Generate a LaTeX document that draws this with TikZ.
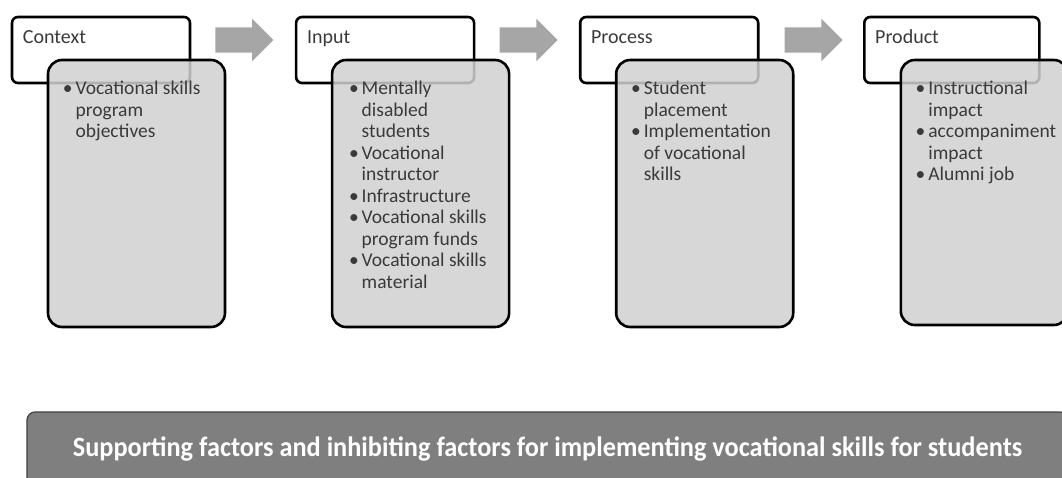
\documentclass[tikz,border=0pt]{standalone}
\usepackage{fontspec}
\setmainfont{Carlito}
\usetikzlibrary{positioning,calc,shapes.arrows}
\definecolor{listgray}{HTML}{D0D0D0}
\definecolor{arrowgray}{HTML}{A6A6A6}
\definecolor{bargray}{HTML}{7F7F7F}
\definecolor{textgray}{HTML}{3A3A3A}
\tikzset{headbox/.style={draw,line width=2.6pt,rounded corners=6pt,fill=white,
    minimum width=178pt,minimum height=66pt,inner sep=0pt}}
\tikzset{listbox/.style={draw,line width=2.6pt,rounded corners=14pt,fill=listgray,
    fill opacity=0.85,minimum width=177pt,minimum height=267pt,anchor=north west}}
\tikzset{headtext/.style={anchor=base west,inner sep=0pt,text=textgray,
    font=\fontsize{20}{24}\selectfont}}
\tikzset{listtext/.style={anchor=base west,inner sep=0pt,text=textgray,
    font=\fontsize{19.5}{21.5}\selectfont}}
\tikzset{steparrow/.style={single arrow,fill=arrowgray,inner xsep=0pt,inner ysep=12.5pt,
    minimum height=58pt,single arrow head extend=8.5pt}}
\tikzset{factorbar/.style={draw=black!75,fill=bargray,line width=1.2pt,rounded corners=8pt,
    minimum width=1041pt,minimum height=74pt,text=white,
    font=\bfseries\fontsize{28}{32}\selectfont}}
\newcommand{\bulletlist}[1]{\begin{tabular}[t]{@{}l@{\hspace{3pt}}l@{}}#1\end{tabular}}

\begin{document}
\begin{tikzpicture}[x=1pt,y=-1pt,node distance=103.5pt]
      \useasboundingbox (0,0) rectangle (1062,477);
      \node[headbox](ctx) at (101,50){};
      \node[headbox,right=of ctx](inp){};
      \node[headbox,right=of inp](proc){};
      \node[headbox,right=of proc,minimum width=175pt](prod){};
      
      \node[steparrow](a1) at ($(ctx.east)!0.5!(inp.west)+(-5,-10)$){};
      \node[steparrow](a2) at ($(inp.east)!0.5!(proc.west)+(-5,-10)$){};
      \node[steparrow](a3) at ($(proc.east)!0.5!(prod.west)+(-4,-10)$){};
      
      \node[listbox](ctxlist) at ([shift={(36,43)}]ctx.north west){};
      \node[listbox](inplist) at ([shift={(36,43)}]inp.north west){};
      \node[listbox](proclist) at ([shift={(36,43)}]proc.north west){};
      \node[listbox,minimum width=167pt,minimum height=265pt](prodlist) at ([shift={(36.5,43)}]prod.north west){};
      
      \node[headtext](ctxtitle) at ([shift={(12,28)}]ctx.north west){Context};
      \node[headtext](inptitle) at ([shift={(12,28)}]inp.north west){Input};
      \node[headtext](proctitle) at ([shift={(12,28)}]proc.north west){Process};
      \node[headtext](prodtitle) at ([shift={(12,28)}]prod.north west){Product};
      
      \node[listtext](ctxitems) at ([shift={(16,36)}]ctxlist.north west){\bulletlist{
        \textbullet & Vocational skills\\ & program\\ & objectives}};
      \node[listtext](inpitems) at ([shift={(18,36)}]inplist.north west){\bulletlist{
        \textbullet & Mentally\\ & disabled\\ & students\\
        \textbullet & Vocational\\ & instructor\\
        \textbullet & Infrastructure\\
        \textbullet & Vocational skills\\ & program funds\\
        \textbullet & Vocational skills\\ & material}};
      \node[listtext](procitems) at ([shift={(16,36)}]proclist.north west){\bulletlist{
        \textbullet & Student\\ & placement\\
        \textbullet & Implementation\\ & of vocational\\ & skills}};
      \node[listtext](proditems) at ([shift={(16,36)}]prodlist.north west){\bulletlist{
        \textbullet & Instructional\\ & impact\\
        \textbullet & accompaniment\\ & impact\\
        \textbullet & Alumni job}};
      
      \node[factorbar](factors) at (547.5,449){\scalebox{0.94}[1]{Supporting factors and inhibiting factors for implementing vocational skills for students}};
    \end{tikzpicture}
\end{document}
